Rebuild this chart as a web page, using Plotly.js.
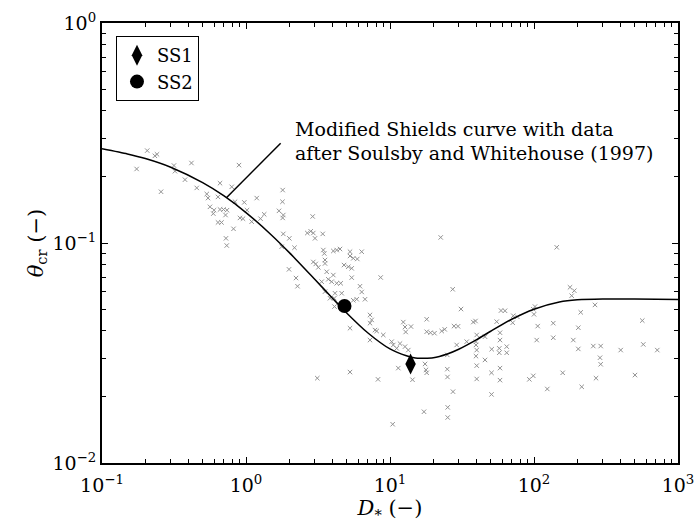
<!DOCTYPE html>
<html>
<head>
<meta charset="utf-8">
<script src="https://cdn.plot.ly/plotly-3.0.1.min.js"></script>
<style>html,body{margin:0;padding:0;background:#fff;}#chart{width:696px;height:531px;}</style>
</head>
<body>
<div id="chart"></div>
<script>
// Soulsby & Whitehouse (1997) data (grey crosses)
const dStar = [
0.206,0.233,0.241,0.174,0.316,0.321,0.418,0.377,0.257,0.455,0.894,0.660,0.796,0.534,0.545,0.639,0.562,0.600,0.593,0.660,
0.698,0.738,0.721,0.639,0.676,0.819,0.726,0.735,0.839,0.973,1.187,1.016,0.908,0.953,1.095,1.261,1.338,1.798,1.792,1.695,
1.816,1.798,2.905,1.816,1.999,1.769,2.172,1.989,2.225,2.279,
2.665,2.814,2.934,3.014,3.410,3.443,3.498,4.04,4.265,4.496,5.276,6.36,5.276,5.561,5.928,3.537,2.934,3.048,3.178,3.537,
4.793,5.134,5.42,3.634,4.04,3.728,3.936,4.265,4.547,3.355,5.42,8.616,6.19,3.537,4.150,4.619,6.36,6.706,5.561,5.872,
4.104,3.831,4.117,
22.5,27.26,31.12,17.98,12.37,12.71,12.85,13.99,17.98,19.11,20.37,22.86,23.99,27.83,29.67,37.88,39.25,59.0,62.9,5.276,
7.262,7.462,7.262,7.866,8.085,8.98,7.262,10.27,10.54,11.13,11.73,12.71,13.40,29.05,34.1,40.0,39.55,45.67,50.85,40.0,
39.55,45.67,55.08,40.0,50.69,40.0,25.0,11.42,17.51,17.78,17.98,25.0,25.08,14.33,8.254,5.276,27.38,50.69,3.127,17.22,
25.16,25.16,10.44,57.41,58.06,
143.8,177.8,190.5,182.7,265.2,211.1,101.6,98.9,100,71.8,76.56,71.14,106.1,136.1,203.1,565,58.06,39.55,58.06,64.63,
104.4,136.1,187.5,203.1,258.1,290.5,400,574,718,57.41,64.63,287.3,290.5,58.06,158.2,502.6,92.8,98.9,269.6,123.7,214.5
];
const thetaCr = [
0.263,0.249,0.253,0.217,0.225,0.212,0.231,0.194,0.171,0.178,0.226,0.187,0.180,0.167,0.160,0.162,0.146,0.141,0.136,0.142,
0.142,0.141,0.134,0.124,0.124,0.116,0.105,0.0974,0.154,0.153,0.160,0.141,0.130,0.129,0.125,0.129,0.135,0.174,0.154,0.140,
0.134,0.130,0.132,0.110,0.105,0.0962,0.0952,0.0759,0.0693,0.0636,
0.111,0.113,0.111,0.105,0.110,0.0929,0.0896,0.0920,0.0929,0.0939,0.0913,0.0913,0.0873,0.0852,0.0846,0.0837,0.0820,0.0803,0.0775,0.0807,
0.0794,0.0780,0.0767,0.0740,0.0715,0.0684,0.0667,0.0656,0.0656,0.0667,0.0696,0.0697,0.0636,0.0601,0.0591,0.0591,0.0599,0.0555,0.0549,0.0555,
0.0561,0.0561,0.0514,
0.106,0.0616,0.0501,0.0450,0.0437,0.0415,0.0394,0.0417,0.0395,0.0391,0.0389,0.0398,0.0405,0.0419,0.0418,0.0437,0.0442,0.0493,0.0492,0.0410,
0.0471,0.0447,0.0432,0.0402,0.0398,0.0382,0.0362,0.0356,0.0344,0.0332,0.0349,0.0338,0.0326,0.0344,0.0356,0.0382,0.0344,0.0375,0.0329,0.0326,
0.0306,0.0294,0.0439,0.0277,0.0257,0.0241,0.0310,0.0270,0.0282,0.0265,0.0257,0.0267,0.0246,0.0239,0.0240,0.0259,0.0211,0.0205,0.0243,0.0171,
0.0179,0.0161,0.0150,0.0332,0.0238,
0.0956,0.0629,0.0607,0.0576,0.0523,0.0484,0.0514,0.0500,0.0474,0.0467,0.0462,0.0434,0.0419,0.0432,0.0412,0.0444,0.0391,0.0356,0.0362,0.0338,
0.0362,0.0371,0.0362,0.0330,0.0340,0.0340,0.0326,0.0346,0.0326,0.0317,0.0317,0.0301,0.0281,0.0270,0.0257,0.0251,0.0240,0.0249,0.0243,0.0217,0.0222
];

// Modified Shields curve
const curveD = [0.1,0.15,0.2,0.3,0.5,0.7,1,1.5,2,3,4,5,7,10,13,15,20,25,30,40,50,70,100,150,200,300,500,1000];
const curveTheta = [0.268,0.254,0.242,0.221,0.188,0.164,0.1375,0.1088,0.0904,0.0684,0.0560,0.0481,0.0391,0.0330,0.0307,0.0300,0.0301,0.0313,0.0329,0.0364,0.0397,0.0450,0.0500,0.0539,0.0552,0.0557,0.0556,0.0553];

// Leader line of the annotation
const leaderD = [0.734, 1.74];
const leaderTheta = [0.161, 0.284];

// Samples
const ss1D = [13.9], ss1Theta = [0.0282];
const ss2D = [4.83], ss2Theta = [0.0517];

const xTickVals = [0.1, 1, 10, 100, 1000];
const xTickText = ['10<sup>−1</sup>','10<sup>0</sup>','10<sup>1</sup>','10<sup>2</sup>','10<sup>3</sup>'];
const yTickVals = [0.01, 0.1, 1];
const yTickText = ['10<sup>−2</sup>','10<sup>−1</sup>','10<sup>0</sup>'];

function minorVals(lo, hi) {
  const v = [];
  for (let e = lo; e < hi; e++) for (let m = 2; m <= 9; m++) v.push(m * Math.pow(10, e));
  return v;
}

const FONT = 'DejaVu Serif';

const traces = [
  {x: dStar, y: thetaCr, type: 'scatter', mode: 'markers', showlegend: false, hoverinfo: 'skip',
   marker: {symbol: 'x-thin-open', size: 4.4, color: '#929292', line: {color: '#929292', width: 1}}},
  {x: curveD, y: curveTheta, type: 'scatter', mode: 'lines', showlegend: false,
   line: {color: '#000', width: 1.5, shape: 'spline', smoothing: 0.6}},
  {x: leaderD, y: leaderTheta, type: 'scatter', mode: 'lines', showlegend: false,
   line: {color: '#000', width: 1.5}},
  {x: ss1D, y: ss1Theta, type: 'scatter', mode: 'markers', name: 'SS1',
   marker: {symbol: 'diamond-tall', size: 15, color: '#000'}},
  {x: ss2D, y: ss2Theta, type: 'scatter', mode: 'markers', name: 'SS2',
   marker: {symbol: 'circle', size: 14, color: '#000'}}
];

const axisCommon = {
  type: 'log', showgrid: false, zeroline: false,
  showline: true, linecolor: '#000', linewidth: 2, mirror: 'ticks',
  ticks: 'inside', ticklen: 6, tickwidth: 1, tickcolor: '#000',
  tickmode: 'array',
  tickfont: {family: FONT, size: 19, color: '#000'}
};

const layout = {
  width: 696, height: 531,
  margin: {l: 102, r: 18, t: 23, b: 68},
  paper_bgcolor: '#fff', plot_bgcolor: '#fff',
  font: {family: FONT, color: '#000'},
  xaxis: Object.assign({}, axisCommon, {
    range: [-1, 3], tickvals: xTickVals, ticktext: xTickText, ticklabelstandoff: 4,
    minor: {tickmode: 'array', tickvals: minorVals(-1, 3), ticks: 'inside', ticklen: 4, tickwidth: 1, tickcolor: '#000', showgrid: false},
    title: {text: '<i>D</i><sub>*</sub> (−)', font: {family: FONT, size: 21, color: '#000'}, standoff: 6}
  }),
  yaxis: Object.assign({}, axisCommon, {
    range: [-2, 0], tickvals: yTickVals, ticktext: yTickText,
    minor: {tickmode: 'array', tickvals: minorVals(-2, 0), ticks: 'inside', ticklen: 4, tickwidth: 1, tickcolor: '#000', showgrid: false},
    title: {text: '<i>θ</i><sub>cr</sub> (−)', font: {family: FONT, size: 21, color: '#000'}, standoff: 3}
  }),
  legend: {
    x: 0.0243, y: 0.9705, xanchor: 'left', yanchor: 'top',
    bordercolor: '#000', borderwidth: 1, bgcolor: '#fff',
    font: {family: FONT, size: 18, color: '#000'},
    tracegroupgap: 0
  },
  annotations: [
    {xref: 'paper', yref: 'paper', x: 0.3316, y: 0.759, xanchor: 'left', yanchor: 'middle', showarrow: false,
     text: 'Modified Shields curve with data', font: {family: FONT, size: 19, color: '#000'}},
    {xref: 'paper', yref: 'paper', x: 0.3316, y: 0.7052, xanchor: 'left', yanchor: 'middle', showarrow: false,
     text: 'after Soulsby and Whitehouse (1997)', font: {family: FONT, size: 19, color: '#000'}}
  ]
};

Plotly.newPlot('chart', traces, layout, {displayModeBar: false, staticPlot: true});
</script>
</body>
</html>
